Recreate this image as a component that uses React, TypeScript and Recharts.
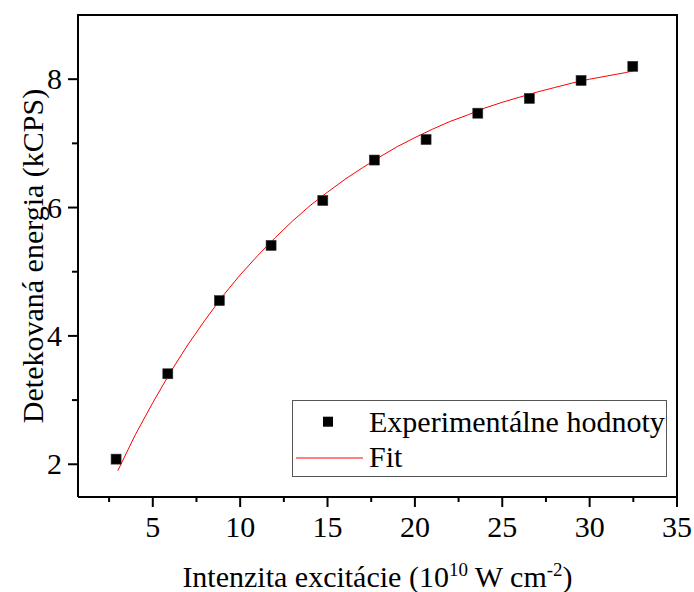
import React from 'react';
import { ComposedChart, Scatter, Line, XAxis, YAxis, Legend, Label } from 'recharts';

// Measured points: excitation intensity (10^10 W cm^-2) vs detected counts (kCPS)
const excitation = [2.9, 5.86, 8.81, 11.77, 14.73, 17.68, 20.64, 23.6, 26.55, 29.51, 32.47];
const detected = [2.08, 3.41, 4.55, 5.41, 6.11, 6.74, 7.06, 7.47, 7.7, 7.98, 8.2];

// Saturation fit curve, sampled
const fitX = [3, 4, 5, 6, 7, 8, 9, 10, 11, 12, 13, 14, 15, 16, 17, 18, 19, 20, 21, 22, 23, 24, 25, 26, 27, 28, 29, 30, 31, 32, 32.5];
const fitY = [1.9, 2.46, 2.96, 3.43, 3.86, 4.25, 4.62, 4.95, 5.25, 5.53, 5.79, 6.03, 6.24, 6.44, 6.62, 6.79, 6.95, 7.09, 7.22, 7.34, 7.44, 7.55, 7.64, 7.72, 7.8, 7.87, 7.94, 8.0, 8.05, 8.1, 8.13];

const xTicks = [2.5, 5, 7.5, 10, 12.5, 15, 17.5, 20, 22.5, 25, 27.5, 30, 32.5, 35];
const yTicks = [2, 3, 4, 5, 6, 7, 8];

const xDomain: [number, number] = [0.72, 35];
const yDomain: [number, number] = [1.49, 9];

const expData = excitation.map((x, i) => ({ x, y: detected[i] }));
const fitData = fitX.map((x, i) => ({ x, y: fitY[i] }));

const W = 694;
const H = 592;
const MARGIN = { top: 15, right: 17, bottom: 0, left: 0 };
const Y_AXIS_W = 78;
const X_AXIS_H = 95;

const txt: React.CSSProperties = {
  fontFamily: "'Liberation Serif', 'Times New Roman', serif",
  fontSize: 30,
  fill: '#000',
};

const XTick = ({ x, y, payload }: any) => {
  const major = payload.value % 5 === 0;
  return (
    <g>
      <line x1={x} x2={x} y1={y} y2={y + (major ? 10 : 5)} stroke="#000" strokeWidth={2} />
      {major && (
        <text x={x} y={y + 40} textAnchor="middle" style={txt}>
          {payload.value}
        </text>
      )}
    </g>
  );
};

const YTick = ({ x, y, payload }: any) => {
  const major = payload.value % 2 === 0;
  return (
    <g>
      <line x1={x} x2={x - (major ? 10 : 6)} y1={y} y2={y} stroke="#000" strokeWidth={2} />
      {major && (
        <text x={x - 16} y={y + 10} textAnchor="end" style={txt}>
          {payload.value}
        </text>
      )}
    </g>
  );
};

const Square = ({ cx, cy }: any) => (
  <rect x={cx - 5} y={cy - 5} width={10} height={10} fill="#000" stroke="#333" strokeWidth={0.6} />
);

const XTitle = ({ viewBox }: any) => {
  const cx = viewBox.x + viewBox.width / 2;
  return (
    <text x={cx} y={587} textAnchor="middle" style={txt}>
      Intenzita excitácie (10
      <tspan dy={-11} style={{ fontSize: 19 }}>10</tspan>
      <tspan dy={11}> W cm</tspan>
      <tspan dy={-11} style={{ fontSize: 19 }}>-2</tspan>
      <tspan dy={11}>)</tspan>
    </text>
  );
};

const YTitle = ({ viewBox }: any) => {
  const cy = viewBox.y + viewBox.height / 2;
  return (
    <text
      x={32}
      y={cy}
      transform={`rotate(-90, 32, ${cy})`}
      textAnchor="middle"
      dominantBaseline="central"
      style={txt}
    >
      Detekovaná energia (kCPS)
    </text>
  );
};

const LegendBox = () => (
  <svg width={375} height={77} style={{ display: 'block' }}>
    <rect x={0.5} y={0.5} width={374} height={76} fill="#fff" stroke="#555" strokeWidth={1} />
    <rect x={31} y={16.7} width={10} height={10} fill="#000" />
    <line x1={4} x2={71} y1={58} y2={58} stroke="#ff0000" strokeWidth={1} />
    <text x={77} y={31.7} style={txt}>Experimentálne hodnoty</text>
    <text x={77} y={67} style={txt}>Fit</text>
  </svg>
);

// top and right edges of the plot box
const plotLeft = MARGIN.left + Y_AXIS_W;
const plotRight = W - MARGIN.right;
const plotBottom = H - MARGIN.bottom - X_AXIS_H;
const frameStyle: React.CSSProperties = {
  position: 'absolute',
  left: plotLeft - 1,
  top: MARGIN.top - 1,
  width: plotRight - plotLeft + 2,
  height: plotBottom - MARGIN.top + 1,
  boxSizing: 'border-box',
  borderTop: '2px solid #000',
  borderRight: '2px solid #000',
  pointerEvents: 'none',
};

export default function App() {
  return (
    <div style={{ position: 'absolute', left: 0, top: 0, width: W, height: H, background: '#fff' }}>
      <ComposedChart width={W} height={H} margin={MARGIN}>
        <XAxis
          dataKey="x"
          type="number"
          domain={xDomain}
          allowDataOverflow
          ticks={xTicks}
          interval={0}
          height={X_AXIS_H}
          tickSize={0}
          tickMargin={0}
          tick={<XTick />}
          axisLine={{ stroke: '#000', strokeWidth: 2 }}
          tickLine={false}
        >
          <Label content={<XTitle />} />
        </XAxis>
        <YAxis
          dataKey="y"
          type="number"
          domain={yDomain}
          allowDataOverflow
          ticks={yTicks}
          interval={0}
          width={Y_AXIS_W}
          tickSize={0}
          tickMargin={0}
          tick={<YTick />}
          axisLine={{ stroke: '#000', strokeWidth: 2 }}
          tickLine={false}
        >
          <Label content={<YTitle />} />
        </YAxis>
        <Line
          data={fitData}
          dataKey="y"
          type="linear"
          stroke="#ff0000"
          strokeWidth={1}
          dot={false}
          activeDot={false}
          isAnimationActive={false}
        />
        <Scatter data={expData} dataKey="y" shape={<Square />} isAnimationActive={false} />
        <Legend
          layout="vertical"
          align="center"
          verticalAlign="middle"
          content={<LegendBox />}
          wrapperStyle={{ left: 292, top: 400, width: 375, height: 77 }}
        />
      </ComposedChart>
      <div style={frameStyle} />
    </div>
  );
}
